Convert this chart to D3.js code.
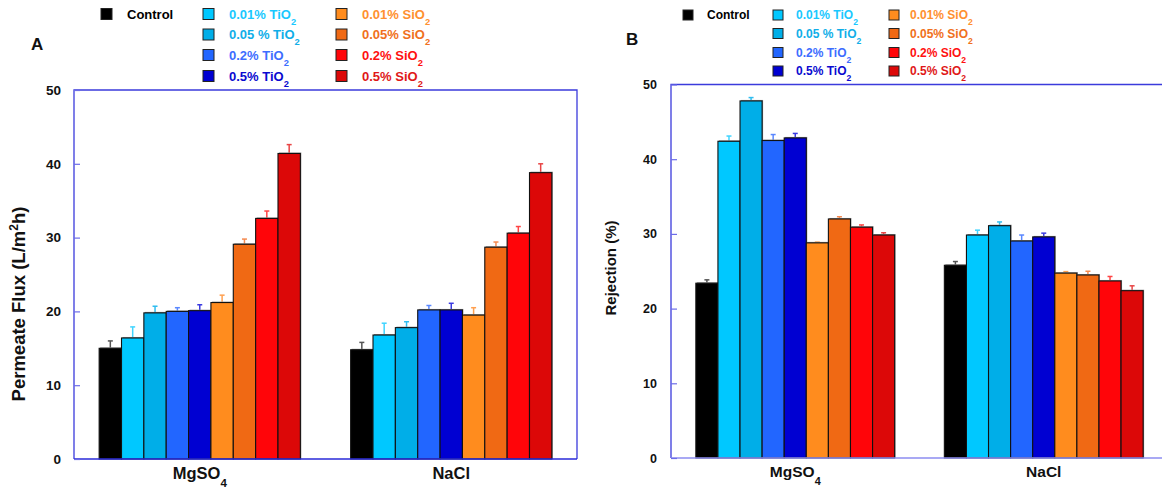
<!DOCTYPE html>
<html><head><meta charset="utf-8">
<script src="https://cdn.jsdelivr.net/npm/d3@7/dist/d3.min.js"></script>
<style>
html,body{margin:0;padding:0;background:#fff;}
svg{display:block;font-family:"Liberation Sans",Arial,sans-serif;font-weight:bold;}
</style></head>
<body>
<svg id="chart" width="1162" height="495"></svg>
<script>
// ---------- data ----------
const categories = ["MgSO4", "NaCl"];
const seriesNames = ["Control","0.01% TiO2","0.05 % TiO2","0.2% TiO2","0.5% TiO2","0.01% SiO2","0.05% SiO2","0.2% SiO2","0.5% SiO2"];
const barColors = ["#000000","#00c8ff","#00aee8","#2266ff","#0000d2","#ff8c1e","#f06914","#ff0509","#dc0808"];
const textColors = ["#000000","#1ac8ff","#10aee8","#3d6dff","#0a0ad0","#ff9030","#f07020","#ff1010","#e01818"];
const errColors = ["#555555","#40d4ff","#30bdf0","#5a88ff","#3a3ae0","#ffa050","#f58a50","#ff4545","#e84545"];

const fluxMgSO4    = [15.0, 16.4, 19.8, 20.0, 20.1, 21.2, 29.1, 32.6, 41.4];
const fluxMgSO4Err = [1.0, 1.5, 0.9, 0.5, 0.8, 1.0, 0.7, 1.0, 1.2];
const fluxNaCl     = [14.8, 16.8, 17.8, 20.2, 20.2, 19.5, 28.7, 30.6, 38.8];
const fluxNaClErr  = [1.0, 1.6, 0.8, 0.6, 0.9, 1.0, 0.7, 0.9, 1.2];

const rejMgSO4     = [23.4, 42.4, 47.8, 42.5, 42.85, 28.8, 32.0, 30.9, 29.85];
const rejMgSO4Err  = [0.45, 0.7, 0.45, 0.8, 0.6, 0.1, 0.3, 0.3, 0.3];
const rejNaCl      = [25.8, 29.85, 31.1, 29.05, 29.6, 24.75, 24.5, 23.7, 22.4];
const rejNaClErr   = [0.5, 0.65, 0.5, 0.8, 0.5, 0.2, 0.5, 0.6, 0.65];

const yTicks = [0, 10, 20, 30, 40, 50];

// ---------- drawing ----------
const svg = d3.select("#chart");

// text with a trailing subscript digit (e.g. TiO2, MgSO4)
function subText(sel, label, subSize, dy) {
  const m = label.match(/^(.*?)(\d)$/);
  if (m && /[A-Za-z]$/.test(m[1])) {
    sel.append("tspan").text(m[1]);
    sel.append("tspan").attr("font-size", subSize).attr("dy", dy).text(m[2]);
  } else {
    sel.text(label);
  }
}

function panel(cfg) {
  const g = svg.append("g");
  const x0 = d3.scaleBand().domain(categories).range([cfg.left, cfg.right]).paddingInner(0.2).paddingOuter(0.1);
  const x1 = d3.scaleBand().domain(d3.range(seriesNames.length)).range([0, x0.bandwidth()]).padding(0);
  const y = d3.scaleLinear().domain([0, 50]).range([cfg.bottom, cfg.top]);

  const data = [];
  categories.forEach((c, ci) => {
    cfg.values[ci].forEach((v, si) => data.push({c, si, v, e: cfg.errors[ci][si]}));
  });

  // error bars (upper half)
  const eb = g.append("g");
  data.forEach(d => {
    const cx = x0(d.c) + x1(d.si) + x1.bandwidth() / 2;
    eb.append("line").attr("x1", cx).attr("x2", cx).attr("y1", y(d.v)).attr("y2", y(d.v + d.e))
      .attr("stroke", errColors[d.si]).attr("stroke-width", 1.5);
    eb.append("line").attr("x1", cx - 2.5).attr("x2", cx + 2.5).attr("y1", y(d.v + d.e)).attr("y2", y(d.v + d.e))
      .attr("stroke", errColors[d.si]).attr("stroke-width", 1.5);
  });

  // shadow
  g.append("g").selectAll("rect").data(data).join("rect")
    .attr("x", d => x0(d.c) + x1(d.si) + 1)
    .attr("y", d => y(d.v) - 1)
    .attr("width", x1.bandwidth())
    .attr("height", d => y(0) - y(d.v) + 1)
    .attr("fill", "#9a9a9a");

  g.append("g").selectAll("rect").data(data).join("rect")
    .attr("x", d => x0(d.c) + x1(d.si))
    .attr("y", d => y(d.v))
    .attr("width", x1.bandwidth())
    .attr("height", d => y(0) - y(d.v))
    .attr("fill", d => barColors[d.si])
    .attr("stroke", "#111")
    .attr("stroke-width", 1.1);

  // frame
  g.append("path")
    .attr("d", `M${cfg.left},${cfg.bottom}V${cfg.top}H${cfg.right}V${cfg.bottom}`)
    .attr("fill", "none").attr("stroke", "#3b3bdc").attr("stroke-width", 1.3);
  g.append("line").attr("x1", cfg.left).attr("x2", cfg.right).attr("y1", cfg.bottom).attr("y2", cfg.bottom)
    .attr("stroke", cfg.bottomColor).attr("stroke-width", 1.6);

  // y axis
  const ax = g.append("g").attr("transform", `translate(${cfg.left},0)`)
    .call(d3.axisLeft(y).tickValues(yTicks).tickSize(-6).tickPadding(cfg.tickPad));
  ax.select(".domain").remove();
  ax.selectAll(".tick line").attr("stroke", "#6c6ce8").attr("stroke-width", 1.2);
  ax.selectAll(".tick text").attr("font-family", "Liberation Sans, Arial, sans-serif")
    .attr("font-weight", "bold").attr("font-size", cfg.tickFont).attr("fill", "#111");

  // category labels
  categories.forEach(c => {
    const t = g.append("text").attr("x", x0(c) + x0.bandwidth() / 2).attr("y", cfg.catY)
      .attr("text-anchor", "middle").attr("font-size", cfg.catFont).attr("fill", "#111");
    subText(t, c, cfg.catFont * 0.7, 8);
  });

  // y title
  const yt = g.append("text").attr("transform", `translate(${cfg.ytX},${cfg.ytY}) rotate(-90)`)
    .attr("text-anchor", "middle").attr("font-size", cfg.ytFont).attr("fill", "#111");
  cfg.yTitle(yt);

  // panel letter
  g.append("text").attr("x", cfg.letterX).attr("y", cfg.letterY).attr("font-size", 17).attr("fill", "#111").text(cfg.letter);

  // legend
  const L = cfg.legend;
  seriesNames.forEach((name, i) => {
    let col, row;
    if (i === 0) { col = 0; row = 0; } else if (i <= 4) { col = 1; row = i - 1; } else { col = 2; row = i - 5; }
    const cy = L.rows[row];
    g.append("rect").attr("x", L.sqX[col]).attr("y", cy - L.sq / 2).attr("width", L.sq).attr("height", L.sq)
      .attr("fill", barColors[i]).attr("stroke", "#222").attr("stroke-width", 1);
    const t = g.append("text").attr("x", L.txX[col]).attr("y", cy + L.font * 0.36)
      .attr("font-size", L.font).attr("fill", textColors[i]);
    subText(t, name, L.font * 0.72, 6);
  });
}

panel({
  left: 74, right: 577, top: 90, bottom: 459,
  values: [fluxMgSO4, fluxNaCl], errors: [fluxMgSO4Err, fluxNaClErr],
  bottomColor: "#2a2ad8", tickPad: 13, tickFont: 13.5,
  catY: 479, catFont: 16.5,
  ytX: 25, ytY: 304, ytFont: 18.5,
  yTitle: t => {
    t.append("tspan").text("Permeate Flux (L/m");
    t.append("tspan").attr("font-size", 12).attr("dy", -7).text("2");
    t.append("tspan").attr("dy", 7).text("h)");
  },
  letter: "A", letterX: 31, letterY: 50,
  legend: { sq: 11, sqX: [101, 203, 336], txX: [127, 229, 362], rows: [14, 34.5, 55, 76], font: 13 }
});

panel({
  left: 671, right: 1168, top: 84.5, bottom: 458,
  values: [rejMgSO4, rejNaCl], errors: [rejMgSO4Err, rejNaClErr],
  bottomColor: "#8c8cf0", tickPad: 14, tickFont: 12.5,
  catY: 477, catFont: 15.5,
  ytX: 616, ytY: 268, ytFont: 15,
  yTitle: t => { t.text("Rejection (%)"); },
  letter: "B", letterX: 626, letterY: 45,
  legend: { sq: 10, sqX: [683, 773, 889], txX: [707, 796, 910], rows: [15, 33.5, 52.5, 71], font: 12 }
});
</script>
</body></html>
